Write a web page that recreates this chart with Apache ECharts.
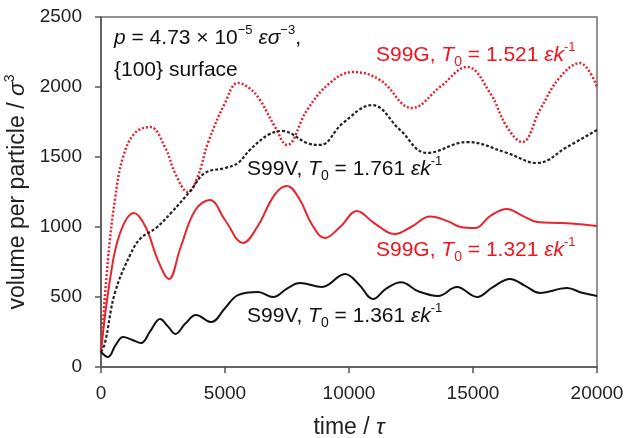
<!DOCTYPE html>
<html>
<head>
<meta charset="utf-8">
<script src="https://cdn.jsdelivr.net/npm/echarts@6/dist/echarts.min.js"></script>
<style>
html,body{margin:0;padding:0;background:#fff;}
#c{width:625px;height:438px;}
</style>
</head>
<body>
<div id="c"></div>
<script>
// x ticks / y ticks
var xTicks = [0, 5000, 10000, 15000, 20000];
var yTicks = [0, 500, 1000, 1500, 2000, 2500];

// S99G, T0 = 1.521 (red dotted)
var g1521Time = [0, 280, 560, 890, 1370, 1980, 2580, 3000, 3510, 3900, 4310, 5000, 5520, 6000, 6410, 7000, 7500, 8310, 9230, 10160, 11250, 12540, 13670, 14760, 15690, 16370, 16980, 17700, 18510, 19310, 20000];
var g1521Vol  = [107, 764, 1193, 1500, 1671, 1714, 1571, 1380, 1250, 1360, 1600, 1886, 2029, 1990, 1907, 1720, 1586, 1836, 2029, 2107, 2050, 1850, 2000, 2143, 1957, 1714, 1607, 1836, 2071, 2171, 2000];

// S99V, T0 = 1.761 (black dotted)
var v1761Time = [0, 160, 560, 1210, 1610, 2220, 2820, 3630, 4190, 5000, 5520, 6000, 6730, 7300, 8310, 8830, 9760, 10930, 12060, 13140, 14760, 16370, 17580, 18790, 20000];
var v1761Vol  = [107, 171, 529, 814, 921, 993, 1100, 1264, 1386, 1421, 1457, 1550, 1657, 1686, 1600, 1586, 1743, 1871, 1693, 1529, 1607, 1529, 1457, 1571, 1693];

// S99G, T0 = 1.321 (red solid)
var g1321Time = [0, 360, 770, 1330, 1800, 2300, 2740, 3200, 3800, 4390, 5000, 5730, 6300, 7000, 7500, 8000, 8500, 9030, 9640, 10320, 11000, 11850, 12500, 13270, 14000, 14500, 15080, 15700, 16370, 17000, 17580, 18500, 19300, 20000];
var g1321Vol  = [107, 621, 957, 1100, 1000, 760, 629, 850, 1120, 1193, 1050, 886, 1000, 1230, 1293, 1200, 1020, 921, 1000, 1114, 1030, 950, 1000, 1075, 1040, 1000, 993, 1080, 1129, 1080, 1036, 1029, 1020, 1007];

// S99V, T0 = 1.361 (black solid)
var v1361Time = [0, 280, 600, 890, 1250, 1610, 2000, 2380, 2700, 3000, 3400, 3830, 4440, 5000, 5520, 6330, 6940, 7500, 8020, 8910, 9840, 10400, 10970, 11500, 12100, 12800, 13590, 14350, 15160, 15800, 16490, 17100, 17700, 18790, 19400, 20000];
var v1361Vol  = [107, 71, 160, 214, 195, 171, 260, 343, 290, 236, 310, 371, 321, 420, 514, 536, 500, 560, 600, 571, 664, 590, 486, 560, 605, 540, 507, 571, 500, 570, 629, 580, 529, 564, 530, 507];

function pairs(t, v) { return t.map(function (x, i) { return [x, v[i]]; }); }

var FONT = '"Liberation Sans", Arial, sans-serif';
var RED = '#f0141e';

function richSet(color) {
  return {
    n: {fontSize: 21, fontFamily: FONT, color: color, lineHeight: 28},
    i: {fontSize: 21, fontFamily: FONT, color: color, fontStyle: 'italic', lineHeight: 28},
    sup: {fontSize: 13, fontFamily: FONT, color: color, verticalAlign: 'top', lineHeight: 14},
    sub: {fontSize: 14, fontFamily: FONT, color: color, verticalAlign: 'bottom', lineHeight: 14}
  };
}

function label(left, top, color, parts) {
  return {
    type: 'text', left: left, top: top, z: 10,
    style: {text: parts, rich: richSet(color), fontFamily: FONT, fontSize: 21, fill: color}
  };
}

var chart = echarts.init(document.getElementById('c'), null, {renderer: 'canvas'});
chart.setOption({
  animation: false,
  backgroundColor: '#fff',
  grid: {left: 101, right: 28, top: 17, bottom: 71, containLabel: false, outerBoundsMode: 'none',
         show: true, borderColor: '#6e6e6e', borderWidth: 1.5, backgroundColor: 'transparent'},
  xAxis: {
    type: 'value', min: xTicks[0], max: xTicks[xTicks.length - 1], interval: 5000,
    name: '{n|time / }{i|τ}', nameLocation: 'middle', nameGap: 49,
    nameTextStyle: {rich: {n: {fontSize: 23, fontFamily: FONT, color: '#222'}, i: {fontSize: 23, fontFamily: FONT, color: '#222', fontStyle: 'italic'}}},
    axisLine: {show: true, lineStyle: {color: '#555', width: 1.5}},
    axisTick: {show: true, inside: false, length: 6, lineStyle: {color: '#555', width: 1.5}},
    axisLabel: {fontSize: 19, fontFamily: FONT, color: '#222', margin: 17, formatter: function (v) { return String(v); }},
    splitLine: {show: false}
  },
  yAxis: {
    type: 'value', min: yTicks[0], max: yTicks[yTicks.length - 1], interval: 500,
    name: '{n|volume per particle / }{i|σ}{s|3}', nameLocation: 'middle', nameGap: 65, nameRotate: 90,
    nameTextStyle: {rich: {
      n: {fontSize: 23, fontFamily: FONT, color: '#222', lineHeight: 28},
      i: {fontSize: 23, fontFamily: FONT, color: '#222', fontStyle: 'italic', lineHeight: 28},
      s: {fontSize: 14, fontFamily: FONT, color: '#222', verticalAlign: 'top', lineHeight: 14}
    }},
    axisLine: {show: true, lineStyle: {color: '#555', width: 1.5}},
    axisTick: {show: true, inside: false, length: 6, lineStyle: {color: '#555', width: 1.5}},
    axisLabel: {fontSize: 19, fontFamily: FONT, color: '#222', margin: 19, formatter: function (v) { return String(v); }},
    splitLine: {show: false}
  },
  series: [
    {name: 'S99G 1.521', type: 'line', data: pairs(g1521Time, g1521Vol), smooth: 0.4, showSymbol: false,
     lineStyle: {color: '#e5212e', width: 2.5, type: [2, 2]}, z: 3},
    {name: 'S99V 1.761', type: 'line', data: pairs(v1761Time, v1761Vol), smooth: 0.4, showSymbol: false,
     lineStyle: {color: '#222', width: 2.2, type: [3, 2]}, z: 4},
    {name: 'S99G 1.321', type: 'line', data: pairs(g1321Time, g1321Vol), smooth: 0.4, showSymbol: false,
     lineStyle: {color: '#e8242c', width: 2}, z: 3},
    {name: 'S99V 1.361', type: 'line', data: pairs(v1361Time, v1361Vol), smooth: 0.4, showSymbol: false,
     lineStyle: {color: '#111', width: 2}, z: 3}
  ],
  graphic: [
    label(114, 24, '#111', '{i|p}{n| = 4.73 × 10}{sup|−5}{n| }{i|εσ}{sup|−3}{n|,}'),
    {type: 'text', left: 114, top: 60, z: 10,
     style: {text: '{100} surface', fontFamily: FONT, fontSize: 21, fill: '#111'}},
    label(376, 41, RED, '{n|S99G, }{i|T}{sub|0}{n| = 1.521 }{i|εk}{sup|-1}'),
    label(247, 155, '#111', '{n|S99V, }{i|T}{sub|0}{n| = 1.761 }{i|εk}{sup|-1}'),
    label(376, 236, RED, '{n|S99G, }{i|T}{sub|0}{n| = 1.321 }{i|εk}{sup|-1}'),
    label(247, 302, '#111', '{n|S99V, }{i|T}{sub|0}{n| = 1.361 }{i|εk}{sup|-1}')
  ]
});
</script>
</body>
</html>
